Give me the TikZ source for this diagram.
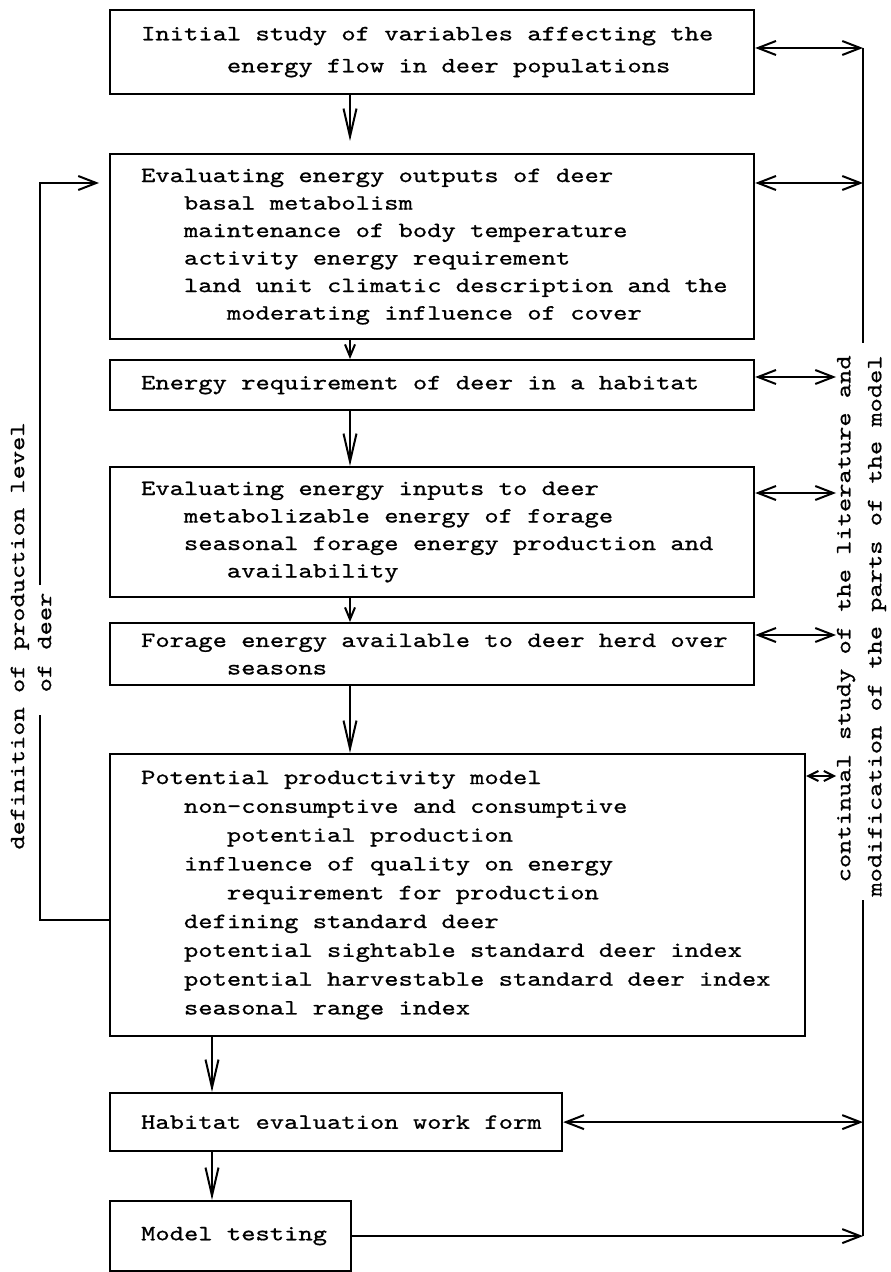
\documentclass[tikz,border=0pt]{standalone}
\usepackage{fontspec}
\usetikzlibrary{arrows.meta, calc}

\newfontfamily\typefont{lmmono10-regular}[Extension = .otf,
  FakeStretch = 1.25, FakeBold = 0.8, WordSpace = {1,0,0}]
\newlength{\pitch}
\setlength{\pitch}{7.15pt}
\newcommand{\indA}{\hspace*{3\pitch}}
\newcommand{\indB}{\hspace*{6\pitch}}

\begin{document}
\begin{tikzpicture}[x = 0.5pt, y = -0.5pt,
  stage/.style = {draw, line width = 1.1pt, anchor = north west,
    inner xsep = 1pt, inner ysep = 0pt, align = left,
    execute at begin node = {\leftskip = 14.5pt\spaceskip = \pitch\xspaceskip = \pitch},
    font = \typefont\fontsize{10.9}{13.75}\selectfont},
  note/.style = {inner sep = 0pt, rotate = 90,
    font = \typefont\fontsize{10.85}{15.5}\selectfont},
  rule/.style = {line width = 1pt},
  flow/.style = {-{Straight Barb[length = 14pt, width = 6.5pt]}, line width = 1pt},
  nudge/.style = {-{Straight Barb[length = 6pt, width = 5pt]}, line width = 1pt},
  link/.style = {{Straight Barb[length = 9pt, width = 7pt]}-{Straight Barb[length = 9pt, width = 7pt]}, line width = 1pt},
  shortlink/.style = {{Straight Barb[length = 5pt, width = 5pt]}-{Straight Barb[length = 5pt, width = 5pt]}, line width = 1pt},
  send/.style = {-{Straight Barb[length = 9pt, width = 7pt]}, line width = 1pt},
  ]
	\useasboundingbox (0,0) rectangle (890,1272);

	% stages
	\node[stage, text width = 320pt, minimum height = 42pt,
		font = \typefont\fontsize{10.9}{16}\selectfont] (initial) at (109,9)
		{Initial study of variables affecting the\\\indB energy flow in deer populations};
	\node[stage, text width = 320pt, minimum height = 92.5pt] (outputs) at (109,153)
		{Evaluating energy outputs of deer\\
		\indA basal metabolism\\
		\indA maintenance of body temperature\\
		\indA activity energy requirement\\
		\indA land unit climatic description and the\\
		\indB moderating influence of cover};
	\node[stage, text width = 320pt, minimum height = 25pt] (need) at (109,359)
		{Energy requirement of deer in a habitat};
	\node[stage, text width = 320pt, minimum height = 65pt] (inputs) at (109,466)
		{Evaluating energy inputs to deer\\
		\indA metabolizable energy of forage\\
		\indA seasonal forage energy production and\\
		\indB availability};
	\node[stage, text width = 320pt, minimum height = 31pt] (forage) at (109,622)
		{Forage energy available to deer herd over\\\indB seasons};
	\node[stage, text width = 345.5pt, minimum height = 141pt,
		font = \typefont\fontsize{10.9}{14.4}\selectfont] (model) at (109,753)
		{Potential productivity model\\
		\indA non-consumptive and consumptive\\
		\indB potential production\\
		\indA influence of quality on energy\\
		\indB requirement for production\\
		\indA defining standard deer\\
		\indA potential sightable standard deer index\\
		\indA potential harvestable standard deer index\\
		\indA seasonal range index};
	\node[stage, text width = 224pt, minimum height = 29pt] (form) at (109,1092)
		{Habitat evaluation work form};
	\node[stage, text width = 118.5pt, minimum height = 35pt] (testing) at (109,1200)
		{Model testing};

	% side labels
	\node[note, align = left, anchor = west,
		font = \typefont\fontsize{10.85}{13.5}\selectfont] (definition) at (31,850)
		{definition of production level\\\hspace*{11\pitch}of deer};
	\node[note, align = right, anchor = east] (study) at (861.5,355)
		{continual study of the literature and\\modification of the parts of the model};

	% guide lines
	\coordinate (spine) at (350,0);
	\coordinate (lower) at (212,0);
	\coordinate (rail) at (863,0);
	\coordinate (stop) at (836,0);
	\coordinate (back) at (40,0);
	\coordinate (railtop) at (863,343);
	\coordinate (railbot) at (863,900);
	\coordinate (backlow) at (40,715);
	\coordinate (backhigh) at (40,585);

	% main flow
	\draw[flow, shorten > = 6pt] (initial.south -| spine) -- (outputs.north -| spine);
	\draw[nudge] (outputs.south -| spine) -- (need.north -| spine);
	\draw[flow] (need.south -| spine) -- (inputs.north -| spine);
	\draw[nudge] (inputs.south -| spine) -- (forage.north -| spine);
	\draw[flow] (forage.south -| spine) -- (model.north -| spine);
	\draw[flow] (model.south -| lower) -- (form.north -| lower);
	\draw[flow] (form.south -| lower) -- (testing.north -| lower);

	% links to the study rail
	\coordinate (r1) at ([yshift = -19.5pt]initial.north east);
	\coordinate (r2) at ([yshift = -15pt]outputs.north east);
	\coordinate (r3) at ([yshift = -9pt]need.north east);
	\coordinate (r4) at ([yshift = -13.5pt]inputs.north east);
	\coordinate (r5) at ([yshift = -6.5pt]forage.north east);
	\coordinate (r6) at ([yshift = -11.5pt]model.north east);
	\draw[link] (r1) -- (r1 -| rail);
	\draw[link] (r2) -- (r2 -| rail);
	\draw[link] (r3) -- (r3 -| stop);
	\draw[link] (r4) -- (r4 -| stop);
	\draw[link] (r5) -- (r5 -| stop);
	\draw[shortlink] (r6) -- (r6 -| stop);
	\draw[link] (form.east) -- (form.east -| rail);
	\draw[send] (testing.east) -- (testing.east -| rail);
	\draw[rule] (r1 -| rail) -- (railtop);
	\draw[rule] (railbot) -- (testing.east -| rail);

	% feedback to outputs
	\coordinate (fb) at ([yshift = -83.5pt]model.north west);
	\coordinate (fa) at ([yshift = -15pt]outputs.north west);
	\draw[rule] (fb) -- (fb -| back) -- (backlow);
	\draw[send, shorten > = 5pt] (backhigh) -- (fa -| back) -- (fa);
\end{tikzpicture}
\end{document}
